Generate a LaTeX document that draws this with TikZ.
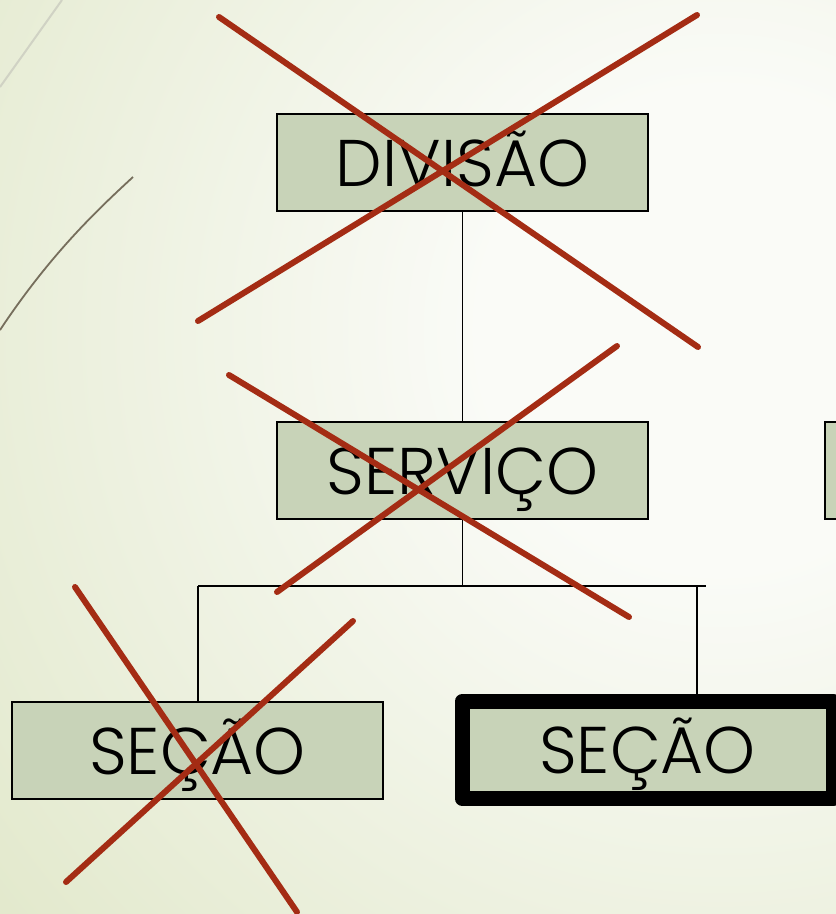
\documentclass[tikz,border=0pt]{standalone}
\usepackage{fontspec}
\setmainfont{Poppins}[UprightFont=* Light]
\definecolor{bgin}{RGB}{250,251,247}
\definecolor{bgout}{RGB}{224,231,200}
\definecolor{boxfill}{RGB}{200,211,184}
\definecolor{crossred}{RGB}{164,44,20}
\definecolor{swishlight}{RGB}{208,210,196}
\definecolor{swishdark}{RGB}{118,110,92}
\pgfdeclareradialshading{bgglow}{\pgfpointorigin}{color(0bp)=(bgin); color(6bp)=(bgin); color(25bp)=(bgout); color(50bp)=(bgout)}
\begin{document}
\begin{tikzpicture}[x=1pt,y=-1pt,
  box/.style={draw, line width=2.5pt, fill=boxfill, minimum width=371pt, minimum height=97pt,
    inner sep=0pt, text height=47pt, text depth=0pt, font=\fontsize{66}{70}\selectfont},
  wire/.style={line width=1.5pt},
  cross/.style={draw=crossred, line width=6pt, line cap=round}]
        \useasboundingbox (0,0) rectangle (836,914);
        \begin{scope}
        \clip (0,0) rectangle (836,914);
        \fill[bgout] (0,0) rectangle (836,914);
        \shade[shading=bgglow] (720,330) circle (1000);
        \end{scope}
        \draw[swishlight, line width=2pt] (0,87) .. controls (25,52) .. (62,0);
        \draw[swishdark, line width=1.8pt] (0,330) .. controls (50,255) and (95,212) .. (133,177);
        \node[box] (divisao) at (462.5,162.5) {DIVISÃO};
        \node[box] (servico) at (462.5,470.5) {SERVIÇO};
        \node[box] (outro) at (1010.5,470.5) {};
        \node[box] (secaoA) at (197.5,750.5) {SEÇÃO};
        \node[box, line width=15pt, line join=round] (secaoB) at (647.5,750) {SEÇÃO};
        \coordinate (busL) at (198,586);
        \coordinate (busR) at (706,586);
        \coordinate (dropB) at (697,586);
        \draw[wire] (divisao) -- (servico)
        (servico.south) -- (servico.south |- busL)
        (busL) -- (busR)
        (busL) -- (busL |- secaoA.north)
        (dropB) -- (dropB |- secaoB.north);
        \draw[cross] (219,17) -- (698,347);
        \draw[cross] (198,321) -- (697,15);
        \draw[cross] (229,375) -- (629,617);
        \draw[cross] (277,592) -- (617,346);
        \draw[cross] (75,587) -- (297,912);
        \draw[cross] (66,882) -- (353,621);
\end{tikzpicture}
\end{document}
